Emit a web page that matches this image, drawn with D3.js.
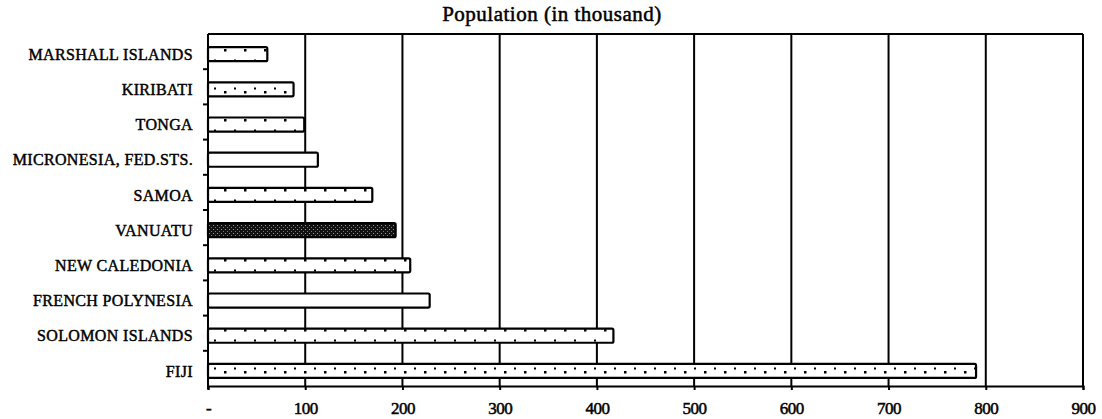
<!DOCTYPE html>
<html>
<head>
<meta charset="utf-8">
<script src="https://cdn.jsdelivr.net/npm/d3@7"></script>
<style>
  html, body { margin: 0; padding: 0; background: #fff; }
  svg { display: block; }
  text { font-family: "Liberation Serif", "DejaVu Serif", serif; fill: #000; }
</style>
</head>
<body>
<svg id="chart" width="1102" height="419"></svg>
<script>
// Pacific island countries, population in thousands
const categories = [
  "MARSHALL ISLANDS", "KIRIBATI", "TONGA", "MICRONESIA, FED.STS.", "SAMOA",
  "VANUATU", "NEW CALEDONIA", "FRENCH POLYNESIA", "SOLOMON ISLANDS", "FIJI"
];
const population = [61, 88, 99, 113, 169, 193, 208, 228, 417, 790];
const xTicks = [0, 100, 200, 300, 400, 500, 600, 700, 800, 900];
const xTickLabels = ["-", "100", "200", "300", "400", "500", "600", "700", "800", "900"];
const chartTitle = "Population (in thousand)";

const svg = d3.select("#chart");
const margin = { top: 34, right: 19, bottom: 33, left: 208 };
const W = 1102, H = 419;

const x = d3.scaleLinear().domain([0, 900]).range([margin.left, W - margin.right]);
const y = d3.scaleBand().domain(categories)
  .range([margin.top, H - margin.bottom])
  .paddingInner(0.6).paddingOuter(0.3).align(0.62);

// fill patterns
const defs = svg.append("defs");
const dots = defs.append("pattern").attr("id", "dots")
  .attr("patternUnits", "userSpaceOnUse").attr("width", 20).attr("height", 14);
dots.append("rect").attr("width", 20).attr("height", 14).attr("fill", "#fff");
dots.append("rect").attr("x", 4).attr("y", 7).attr("width", 2.5).attr("height", 2.5).attr("fill", "#000");
dots.append("rect").attr("x", 14).attr("y", 3.5).attr("width", 2).attr("height", 2).attr("fill", "#000");

const dense = defs.append("pattern").attr("id", "dense")
  .attr("patternUnits", "userSpaceOnUse").attr("width", 4).attr("height", 4);
dense.append("rect").attr("width", 4).attr("height", 4).attr("fill", "#111");
dense.append("rect").attr("x", 1).attr("y", 1).attr("width", 1).attr("height", 1).attr("fill", "#999");
dense.append("rect").attr("x", 3).attr("y", 3).attr("width", 1).attr("height", 1).attr("fill", "#777");

const fillFor = c => c === "VANUATU" ? "url(#dense)"
  : (c === "MICRONESIA, FED.STS." || c === "FRENCH POLYNESIA") ? "#fff" : "url(#dots)";

// vertical gridlines
svg.append("g").selectAll("line").data(xTicks.slice(1)).join("line")
  .attr("x1", d => x(d)).attr("x2", d => x(d))
  .attr("y1", margin.top).attr("y2", H - margin.bottom)
  .attr("stroke", "#000").attr("stroke-width", 2);

// top frame line
svg.append("line")
  .attr("x1", x(0)).attr("x2", x(900))
  .attr("y1", margin.top).attr("y2", margin.top)
  .attr("stroke", "#000").attr("stroke-width", 2);

// bars
svg.append("g").selectAll("rect").data(categories).join("rect")
  .attr("x", x(0))
  .attr("y", d => y(d))
  .attr("width", (d, i) => x(population[i]) - x(0))
  .attr("height", y.bandwidth())
  .attr("rx", 1.5)
  .attr("fill", d => fillFor(d))
  .attr("stroke", "#000").attr("stroke-width", 2.2);

// bottom axis
const xAxis = d3.axisBottom(x).tickValues(xTicks).tickFormat((d, i) => xTickLabels[i])
  .tickSize(4).tickPadding(12);
const gx = svg.append("g").attr("transform", `translate(0,${H - margin.bottom})`).call(xAxis);
gx.select(".domain").attr("stroke", "#000").attr("stroke-width", 2);
gx.selectAll(".tick line").attr("stroke", "#000").attr("stroke-width", 2);
gx.selectAll(".tick text")
  .attr("font-size", 17)
  .attr("font-family", "Liberation Serif, serif")
  .attr("letter-spacing", -0.5)
  .attr("stroke", "#000").attr("stroke-width", 0.5);

// left axis
svg.append("line")
  .attr("x1", x(0)).attr("x2", x(0))
  .attr("y1", margin.top).attr("y2", H - margin.bottom + 3)
  .attr("stroke", "#000").attr("stroke-width", 2);
const gap = y.step() - y.bandwidth();
svg.append("g").selectAll("line").data(categories.slice(1)).join("line")
  .attr("x1", x(0) - 5).attr("x2", x(0))
  .attr("y1", d => y(d) - gap * 0.62).attr("y2", d => y(d) - gap * 0.62)
  .attr("stroke", "#000").attr("stroke-width", 2);

// category labels
svg.append("g").selectAll("text").data(categories).join("text")
  .attr("x", x(0) - 15)
  .attr("y", d => y(d) + y.bandwidth() / 2)
  .attr("dy", "0.35em")
  .attr("text-anchor", "end")
  .attr("font-size", 16)
  .attr("letter-spacing", 0.35)
  .attr("stroke", "#000").attr("stroke-width", 0.45)
  .text(d => d);

// title
svg.append("text")
  .attr("x", 552).attr("y", 21)
  .attr("text-anchor", "middle")
  .attr("font-size", 21)
  .attr("letter-spacing", 0.5)
  .attr("stroke", "#000").attr("stroke-width", 0.5)
  .text(chartTitle);
</script>
</body>
</html>
